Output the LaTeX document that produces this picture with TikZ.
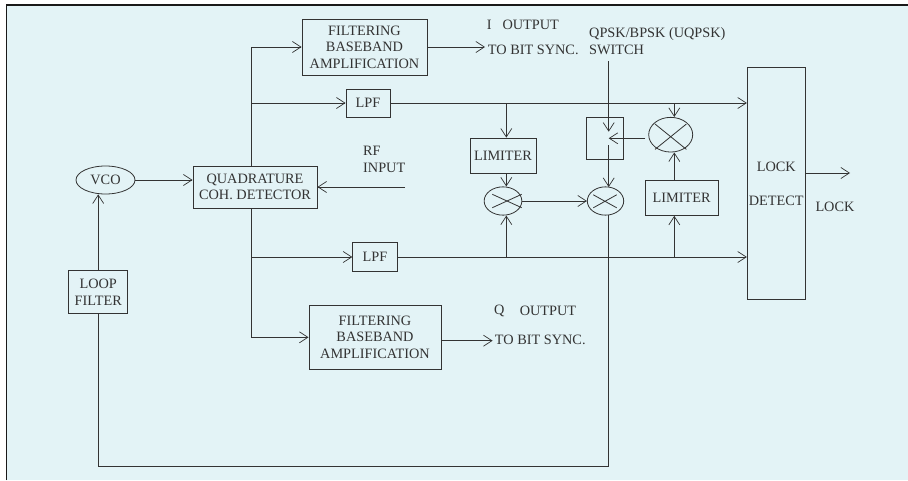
\documentclass[tikz,border=0pt]{standalone}
\usepackage{fontspec}
\setmainfont{Liberation Serif}
\usetikzlibrary{arrows.meta,shapes.geometric}
\definecolor{bg}{HTML}{E3F3F6}
\definecolor{ink}{HTML}{333333}
\tikzset{
 x=1pt,y=-1pt,
 every node/.style={font=\fontsize{14.3}{16.6}\selectfont,text=ink,inner sep=0pt},
 wire/.style={draw=ink,line width=0.8pt},
 arr/.style={wire,-{Straight Barb[length=8.5pt,width=11pt,line width=0.7pt]}},
 blockbox/.style={draw=ink,line width=0.9pt,align=center},
 mixer/.style={draw=ink,line width=0.8pt,ellipse},
 lab/.style={align=left,anchor=west},
}
\begin{document}
\begin{tikzpicture}
\useasboundingbox (0,0) rectangle (908,480);
\fill[bg] (0,0) rectangle (908,480);
\fill[white] (0,0) rectangle (908,4.5) (0,0) rectangle (6,480);
\draw[draw=black!90,line width=1.4pt] (6.3,480) -- (6.3,5) -- (908,5);
% blocks
\node[blockbox,minimum width=125pt,minimum height=56pt] (f1) at (364.5,47) {FILTERING\\BASEBAND\\AMPLIFICATION};
\node[blockbox,minimum width=44pt,minimum height=28pt] (lpf1) at (368,103) {LPF};
\node[blockbox,minimum width=124pt,minimum height=42pt] (qd) at (255,187) {QUADRATURE\\COH. DETECTOR};
\node[draw=ink,line width=0.8pt,ellipse,minimum width=59pt,minimum height=28pt] (vco) at (105.5,180) {VCO};
\node[blockbox,minimum width=59pt,minimum height=42.6pt] (lf) at (98.2,292) {LOOP\\FILTER};
\node[blockbox,minimum width=44.5pt,minimum height=28.6pt] (lpf2) at (375,257) {LPF};
\node[blockbox,minimum width=132pt,minimum height=63.3pt] (f2) at (375,337.3) {FILTERING\\BASEBAND\\AMPLIFICATION};
\node[blockbox,minimum width=66pt,minimum height=35.3pt] (lim1) at (503,155.7) {LIMITER};
\node[blockbox,minimum width=73.3pt,minimum height=35.3pt] (lim2) at (681.7,197.7) {LIMITER};
\node[draw=ink,line width=0.8pt,minimum width=37pt,minimum height=42.3pt] (sw) at (605.2,138.2) {};
\node[blockbox,minimum width=58.4pt,minimum height=231.3pt] (ld) at (776.5,183.3) {};
\node (ldt1) at (776.3,166.7) {LOCK};
\node (ldt2) at (776.3,201) {DETECT};
% mixers
\node[mixer,minimum width=37.7pt,minimum height=28.3pt] (m1) at (503,201) {};
\node[mixer,minimum width=36.4pt,minimum height=28.3pt] (m2) at (605.5,201) {};
\node[mixer,minimum width=44pt,minimum height=34.7pt] (m3) at (670.7,134.7) {};
\draw[wire] (492.3,194.3) -- (521.7,207.7) (492.3,207.7) -- (521.7,194.3);
\draw[wire] (593.3,194.8) -- (616.7,207.8) (593.3,207.8) -- (616.7,194.8);
\draw[wire] (655,124) -- (686.4,149.4) (655,149.4) -- (686.4,124);
% labels
\node[lab] (t1a) at (486.7,25.3) {I};
\node[lab] (t1b) at (502.3,25.3) {OUTPUT};
\node[lab] (t2) at (487.7,50) {TO BIT SYNC.};
\node[lab] (t3) at (363,159.3) {RF\\INPUT};
\node[lab] (t4a) at (494,311) {Q};
\node[lab] (t4b) at (519.6,311) {OUTPUT};
\node[lab] (t5) at (494.7,340) {TO BIT SYNC.};
\node[lab] (t6) at (589,41) {QPSK/BPSK (UQPSK)\\SWITCH};
\node[lab] (t7) at (815.3,207) {LOCK};
% free ends
\coordinate (rf) at (405,187);
\coordinate (lockend) at (850,173);
\coordinate (t2in) at (485,47);
\coordinate (t5in) at (492.6,340.7);
\coordinate (qdn) at (251,166);
\coordinate (qds) at (251,208);
\coordinate (qdu) at (251,103);
\coordinate (qdl) at (251,257);
\coordinate (tap1) at (506.3,103);
\coordinate (tap2) at (506.3,257);
\coordinate (tap3) at (674.3,103);
\coordinate (tap4) at (674.3,257);
\coordinate (swt) at (608.7,61);
\coordinate (swa) at (608.7,131.7);
\coordinate (swb) at (608.7,138.3);
\coordinate (swc) at (608.7,145);
\coordinate (m3o) at (645.3,138.3);
\coordinate (m2b) at (608.7,215);
\coordinate (m2t) at (608.7,187);
\coordinate (corner) at (608.7,466);
% connectors
\draw[arr] (f1.east) -- (t2in);
\draw[arr] (f2.east|-t5in) -- (t5in);
\draw[arr] (vco.east) -- (qd.west|-vco.east);
\draw[arr] (rf) -- (qd.east|-rf);
\draw[arr] (qdn) |- (f1.west);
\draw[arr] (qdu) -- (lpf1.west);
\draw[arr] (qds) |- (f2.west);
\draw[arr] (qdl) -- (lpf2.west);
\draw[arr] (lf.north) -- (lf.north|-vco.south);
\draw[arr] (lpf1.east) -- (ld.west|-lpf1.east);
\draw[arr] (lpf2.east) -- (ld.west|-lpf2.east);
\draw[arr] (tap1) -- (tap1|-lim1.north);
\draw[arr] (tap1|-lim1.south) -- (tap1|-m1.north);
\draw[arr] (tap2) -- (tap2|-m1.south);
\draw[arr] (m1.east) -- (m2.west);
\draw[arr] (tap3) -- (tap3|-m3.north);
\draw[arr] (tap4) -- (tap4|-lim2.south);
\draw[arr] (tap4|-lim2.north) -- (tap4|-m3.south);
\draw[arr] (swt) -- (swa);
\draw[arr] (m3o) -- (swb);
\draw[arr] (swc) -- (m2t);
\draw[wire] (m2b) -- (corner) -| (lf.south);
\draw[arr] (ld.east|-lockend) -- (lockend);
\end{tikzpicture}
\end{document}
